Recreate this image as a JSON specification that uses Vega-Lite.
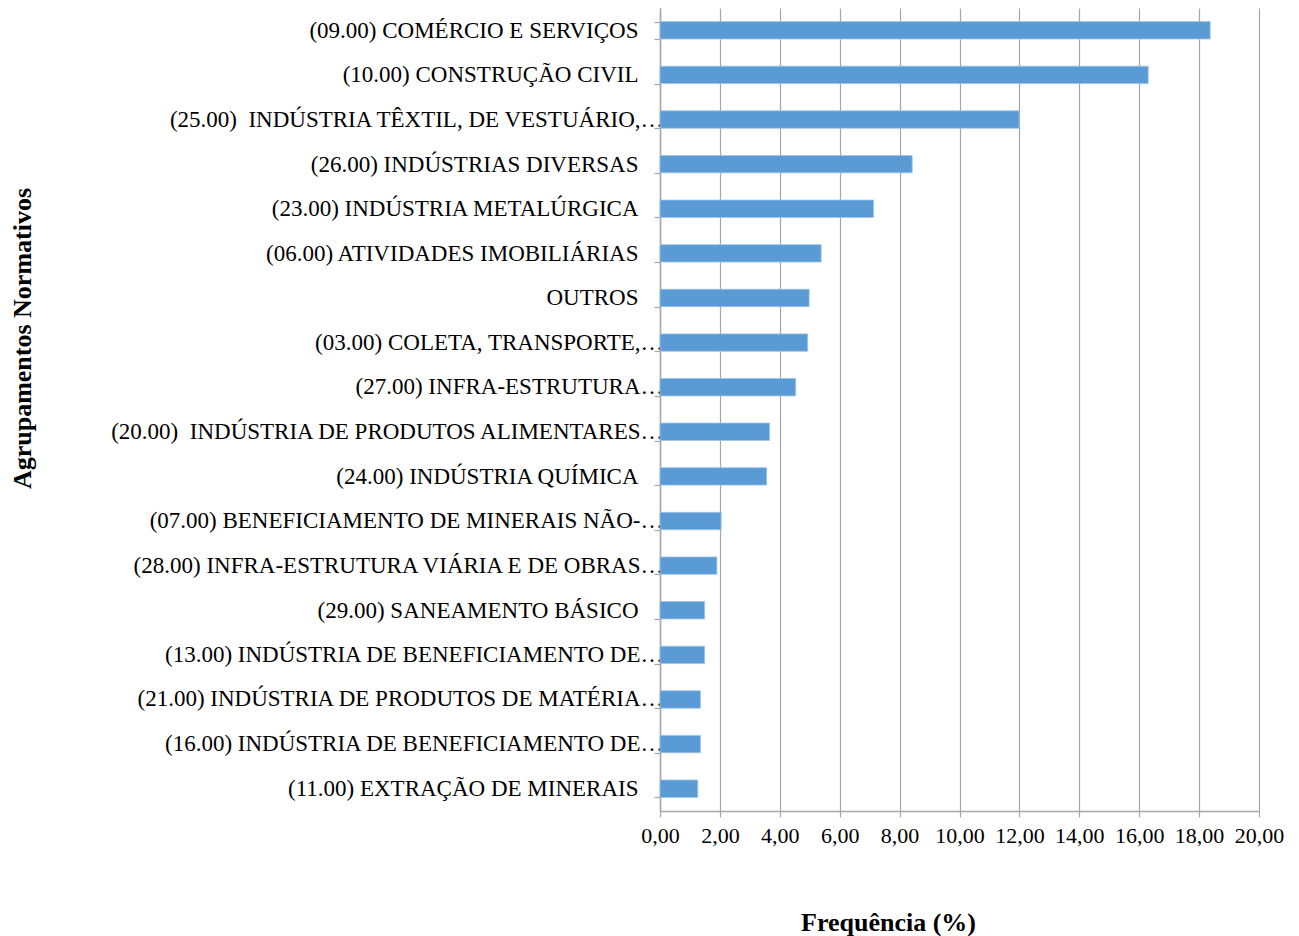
{
  "$schema": "https://vega.github.io/schema/vega-lite/v6.json",
  "width": 599,
  "height": 803,
  "autosize": {"type": "none"},
  "padding": {"left": 660, "top": 8, "right": 40, "bottom": 125},
  "background": "white",
  "data": {
    "values": [
      {"grupo": "(09.00) COMÉRCIO E SERVIÇOS", "freq": 18.37},
      {"grupo": "(10.00) CONSTRUÇÃO CIVIL", "freq": 16.30},
      {"grupo": "(25.00)\u00a0 INDÚSTRIA TÊXTIL, DE VESTUÁRIO,…", "freq": 11.99},
      {"grupo": "(26.00) INDÚSTRIAS DIVERSAS", "freq": 8.42},
      {"grupo": "(23.00) INDÚSTRIA METALÚRGICA", "freq": 7.13},
      {"grupo": "(06.00) ATIVIDADES IMOBILIÁRIAS", "freq": 5.38},
      {"grupo": "OUTROS", "freq": 4.98},
      {"grupo": "(03.00) COLETA, TRANSPORTE,…", "freq": 4.93},
      {"grupo": "(27.00) INFRA-ESTRUTURA…", "freq": 4.53},
      {"grupo": "(20.00)\u00a0 INDÚSTRIA DE PRODUTOS ALIMENTARES…", "freq": 3.66},
      {"grupo": "(24.00) INDÚSTRIA QUÍMICA", "freq": 3.56},
      {"grupo": "(07.00) BENEFICIAMENTO DE MINERAIS NÃO-…", "freq": 2.04},
      {"grupo": "(28.00) INFRA-ESTRUTURA VIÁRIA E DE OBRAS…", "freq": 1.90},
      {"grupo": "(29.00) SANEAMENTO BÁSICO", "freq": 1.49},
      {"grupo": "(13.00) INDÚSTRIA DE BENEFICIAMENTO DE…", "freq": 1.49},
      {"grupo": "(21.00) INDÚSTRIA DE PRODUTOS DE MATÉRIA…", "freq": 1.35},
      {"grupo": "(16.00) INDÚSTRIA DE BENEFICIAMENTO DE…", "freq": 1.35},
      {"grupo": "(11.00) EXTRAÇÃO DE MINERAIS", "freq": 1.26}
    ]
  },
  "encoding": {
    "x": {
      "field": "freq",
      "type": "quantitative",
      "scale": {"domain": [0, 20], "nice": false},
      "axis": {
        "values": [0, 2, 4, 6, 8, 10, 12, 14, 16, 18, 20],
        "labelExpr": "replace(format(datum.value, '.2f'), '.', ',')",
        "title": "Frequência (%)",
        "titleFont": "Liberation Serif",
        "titleFontSize": 26,
        "titleFontWeight": "bold",
        "titleColor": "black",
        "titleX": 228,
        "titleY": 111,
        "titleAlign": "center",
        "titleBaseline": "middle",
        "labelFont": "Liberation Serif",
        "labelFontSize": 22,
        "labelColor": "black",
        "labelPadding": 8,
        "labelFlush": false,
        "tickSize": 6,
        "tickColor": "#a6a6a6",
        "tickWidth": 1.2,
        "domainColor": "#a6a6a6",
        "domainWidth": 1.5,
        "grid": true,
        "gridColor": "#a6a6a6",
        "gridWidth": 1.2
      }
    }
  },
  "layer": [
    {
      "mark": {"type": "bar", "color": "#5b9bd5", "stroke": "#9dc3e6", "strokeWidth": 0.8},
      "encoding": {
        "y": {
          "field": "grupo",
          "type": "nominal",
          "sort": null,
          "scale": {"paddingInner": 0.61, "paddingOuter": 0.305},
          "axis": {
            "orient": "left",
            "title": "Agrupamentos Normativos",
            "titleFont": "Liberation Serif",
            "titleFontSize": 26,
            "titleFontWeight": "bold",
            "titleColor": "black",
            "titleAngle": -90,
            "titleX": -638,
            "titleY": 330,
            "titleAlign": "center",
            "titleBaseline": "middle",
            "labelFont": "Liberation Serif",
            "labelFontSize": 23,
            "labelColor": "black",
            "labelLimit": 700,
            "labelPadding": 16,
            "labelExpr": "indexof(datum.label, '…') >= 0 ? '' : datum.label",
            "tickBand": "extent",
            "tickSize": 6,
            "tickColor": "#a6a6a6",
            "tickWidth": 1.2,
            "domainColor": "#a6a6a6",
            "domainWidth": 1.5,
            "grid": false
          }
        }
      }
    },
    {
      "mark": {"type": "bar", "opacity": 0},
      "encoding": {
        "y": {
          "field": "grupo",
          "type": "nominal",
          "sort": null,
          "axis": {
            "orient": "left",
            "title": null,
            "labelFont": "Liberation Serif",
            "labelFontSize": 23,
            "labelColor": "black",
            "labelLimit": 700,
            "labelPadding": -3,
            "labelExpr": "indexof(datum.label, '…') >= 0 ? datum.label : ''",
            "ticks": false,
            "tickSize": 6,
            "domain": false,
            "grid": false
          }
        }
      }
    }
  ],
  "resolve": {"scale": {"y": "shared"}, "axis": {"y": "independent"}},
  "config": {"view": {"stroke": null}}
}
